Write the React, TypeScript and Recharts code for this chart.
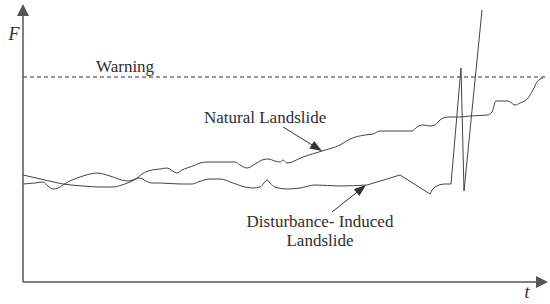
import { LineChart, Line, XAxis, YAxis, ReferenceLine } from "recharts";

// time (t) and factor of safety (F) readings, arbitrary units
const naturalT = [0, 12, 20, 25, 30, 35, 40, 45, 57, 67, 74, 87, 104, 114, 119, 129, 137, 144, 154, 159, 164, 170, 177, 184, 212, 217, 224, 232, 239, 245, 252, 257, 260, 264, 280, 299, 317, 327, 342, 350, 357, 389, 394, 400, 407, 412, 417, 425, 437, 447, 464, 469, 473, 485, 492, 497, 505, 510, 514, 520];
const naturalF = [98, 99, 100, 96, 93, 94, 97, 100, 105, 108, 109, 106, 101, 104, 108, 112, 113, 114, 109, 112, 114, 116, 119, 120, 120, 117, 114, 118, 122, 123, 121, 120, 122, 119, 125, 131, 137, 143, 147, 148, 151, 151, 155, 157, 156, 157, 162, 165, 165, 166, 167, 170, 181, 181, 177, 179, 184, 192, 200, 204];

// disturbance-induced: wavy part, then the sharp part ending in the zigzag
const disturbT = [0, 22, 40, 60, 77, 90, 99, 107, 117, 123, 129, 137, 157, 169, 175, 187, 197, 210, 222, 230, 237, 241, 244, 247, 252, 264, 277, 292, 317, 344];
const disturbF = [107, 102, 98, 96, 95, 95, 97, 100, 104, 101, 99, 99, 98, 98, 100, 103, 103, 99, 95, 94, 95, 99, 102, 99, 95, 93, 94, 97, 96, 97];
const surgeT = [344, 377, 407, 409, 412, 416, 421, 428, 438, 441, 459];
const surgeF = [97, 107, 88, 92, 95, 97, 98, 98, 214, 91, 272];

const warningLevel = 205;

const naturalData = naturalT.map((t, i) => ({ t, F: naturalF[i] }));
const disturbData = disturbT.map((t, i) => ({ t, F: disturbF[i] }));
const surgeData = surgeT.map((t, i) => ({ t, F: surgeF[i] }));

const serif = "'Liberation Serif', 'DejaVu Serif', Times, serif";
const ink = "#2e2e2e";

function arrowShape(head: number, half: number, color: string, width: number) {
  return (p: any) => {
    const { x1, y1, x2, y2 } = p;
    const dx = x2 - x1;
    const dy = y2 - y1;
    const len = Math.hypot(dx, dy) || 1;
    const ux = dx / len;
    const uy = dy / len;
    const bx = x2 - ux * head;
    const by = y2 - uy * head;
    const pts = `${x2},${y2} ${bx - uy * half},${by + ux * half} ${bx + uy * half},${by - ux * half}`;
    return (
      <g>
        <line x1={x1} y1={y1} x2={bx + ux * 2} y2={by + uy * 2} stroke={color} strokeWidth={width} />
        <polygon points={pts} fill={color} />
      </g>
    );
  };
}

export default function App() {
  return (
    <div style={{ position: "absolute", left: 0, top: 0, background: "#fff" }}>
      <LineChart
        width={550}
        height={304}
        margin={{ top: 5, right: 5, bottom: 22, left: 23 }}
        style={{ fontFamily: serif }}
      >
        <XAxis type="number" dataKey="t" domain={[0, 522]} hide allowDataOverflow />
        <YAxis type="number" dataKey="F" domain={[0, 277]} hide allowDataOverflow />

        <ReferenceLine
          y={warningLevel}
          stroke="#333"
          strokeWidth={1}
          strokeDasharray="4 3"
        />

        <Line
          data={naturalData}
          dataKey="F"
          type="monotoneX"
          stroke="#444"
          strokeWidth={1}
          dot={false}
          isAnimationActive={false}
        />
        <Line
          data={disturbData}
          dataKey="F"
          type="monotoneX"
          stroke="#444"
          strokeWidth={1}
          dot={false}
          isAnimationActive={false}
        />
        <Line
          data={surgeData}
          dataKey="F"
          type="linear"
          stroke="#444"
          strokeWidth={1}
          dot={false}
          isAnimationActive={false}
        />

        {/* axes with arrow heads */}
        <ReferenceLine
          segment={[{ x: 0, y: 0 }, { x: 0, y: 278 }]}
          ifOverflow="visible"
          shape={arrowShape(12, 6, "#555", 1.5)}
        />
        <ReferenceLine
          segment={[{ x: 0, y: 0 }, { x: 525, y: 0 }]}
          ifOverflow="visible"
          shape={arrowShape(12, 6, "#555", 1.5)}
        />

        {/* annotation arrows */}
        <ReferenceLine
          segment={[{ x: 260, y: 155 }, { x: 299, y: 131 }]}
          ifOverflow="visible"
          shape={arrowShape(12, 4.5, "#333", 1)}
        />
        <ReferenceLine
          segment={[{ x: 309, y: 70 }, { x: 343, y: 97 }]}
          ifOverflow="visible"
          shape={arrowShape(12, 4.5, "#333", 1)}
        />

        <text x={14} y={40} fontFamily={serif} fontStyle="italic" fontSize={18} fill={ink} textAnchor="middle">F</text>
        <text x={527} y={298} fontFamily={serif} fontStyle="italic" fontSize={18} fill={ink} textAnchor="middle">t</text>
        <text x={96} y={72} fontFamily={serif} fontSize={17} fill={ink}>Warning</text>
        <text x={204} y={123} fontFamily={serif} fontSize={17} fill={ink}>Natural Landslide</text>
        <text x={320} y={227} fontFamily={serif} fontSize={17} fill={ink} textAnchor="middle">Disturbance- Induced</text>
        <text x={320} y={246} fontFamily={serif} fontSize={17} fill={ink} textAnchor="middle">Landslide</text>
      </LineChart>
    </div>
  );
}
